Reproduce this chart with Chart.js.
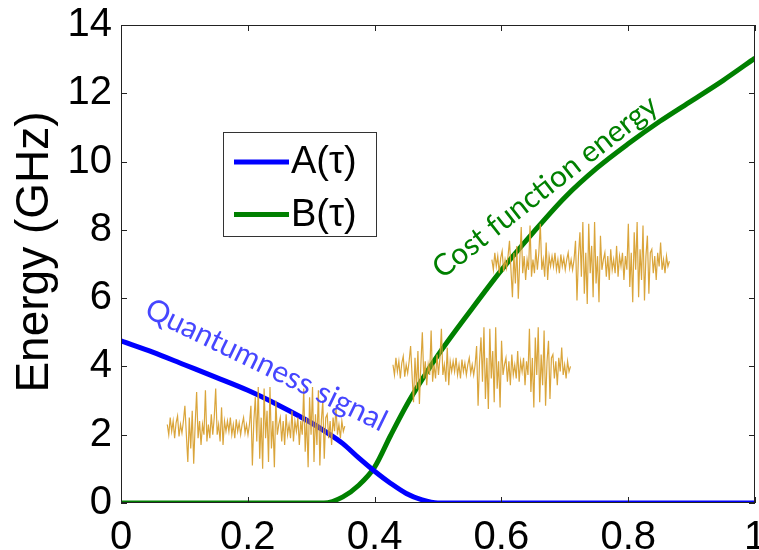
<!DOCTYPE html>
<html>
<head>
<meta charset="utf-8">
<script src="https://cdn.jsdelivr.net/npm/chart.js@4.4.1/dist/chart.umd.min.js"></script>
<style>
html, body { margin: 0; padding: 0; background: #fff; }
#wrap { width: 759px; height: 550px; }
</style>
</head>
<body>
<div id="wrap"><canvas id="myChart" width="759" height="550"></canvas></div>
<script>
// tau (x) sample positions and the two energy curves (GHz)
const tau     = [0, 0.05, 0.1, 0.15, 0.2, 0.25, 0.3, 0.32, 0.35, 0.375, 0.4, 0.425, 0.45, 0.475, 0.5, 0.55, 0.6, 0.65, 0.7, 0.75, 0.8, 0.85, 0.9, 0.95, 1];
const aValues = [4.75, 4.42, 4.05, 3.68, 3.3, 2.85, 2.35, 2.12, 1.74, 1.32, 0.93, 0.58, 0.28, 0.09, 0, 0, 0, 0, 0, 0, 0, 0, 0, 0, 0];
const bValues = [0, 0, 0, 0, 0, 0, 0, 0, 0.18, 0.52, 1.05, 1.97, 2.85, 3.62, 4.33, 5.6, 6.82, 7.92, 8.95, 9.8, 10.52, 11.18, 11.78, 12.38, 13.03];

const seriesLabels = ['A(\u03c4)', 'B(\u03c4)'];
const xTicks = [0, 0.2, 0.4, 0.6, 0.8, 1];
const yTicks = [0, 2, 4, 6, 8, 10, 12, 14];

// signal snippets (same pasted waveform three times, offsets in GHz)
const noise = [
  0.1, -0.2, 0.3, -0.1, 0.2, -0.3, 0.15, 0.35, -0.25, 0.1, -0.15, 0.2,
  0.65, -0.2, -1.0, 0.3, -0.6, 0.5, -1.05, 0.1, 1.05, -0.3, 0.2, -0.5, 0.1, -0.2,
  1.1, -0.4, 0.1, -0.3, 0.4, -0.2, 0.3, 1.15, -0.2, 0.1, -0.4, 0.6, -0.5, 0.2, -0.1,
  0.2, -0.1, 0.3, -0.2, 0.1, -0.3, 0.25, -0.1, 0.15, -0.2, 0.1, 0.3, -0.15, 0.1, -0.2, 0.1,
  0.65, -1.1, 0.2, 0.9, -0.4, 1.2, -0.9, 0.3, -1.2, 1.15, -0.3, 0.5, -1.0, 1.2, -0.6, 0.2, -1.15, 0.8, -0.2, 0.1,
  0.3, -0.4, 0.2, -0.5, 0.4, -0.2, 0.1, -0.3, 0.5, -0.4, 0.2, -0.1, 0.3, -0.5, 0.2, -0.2,
  1.15, -0.7, 0.3, -1.15, 0.9, -0.2, 1.2, -1.0, 0.4, -0.5, 1.1, -1.1, 0.2, 0.8, -0.9, 0.3,
  0.4, -0.3, 0.2, -0.5, 0.3, -0.1, 0.6, -0.2, 0.1, -0.3, 0.2, -0.1, 0.05
];
const clipStartX  = [0.073, 0.429, 0.585];
const clipCenterY = [2.2, 3.95, 7.03];
const clipWidth = 0.28;

const notes = [
  { text: 'Quantumness signal', x: 0.229, y: 4.04, angle: 26, color: '#4646ff' },
  { text: 'Cost function energy', x: 0.669, y: 9.26, angle: -38, color: '#008000' }
];

const lineColors = ['#0000ff', '#008000'];

const datasets = [aValues, bValues].map(function(vals, k) {
    return {
        label: seriesLabels[k],
        data: tau.map(function(t, i) { return { x: t, y: vals[i] }; }),
        borderColor: lineColors[k],
        borderWidth: 5,
        pointRadius: 0,
        cubicInterpolationMode: 'monotone',
        order: 1
    };
});

clipStartX.forEach(function(x0, k) {
    datasets.push({
        label: 'signal' + k,
        data: noise.map(function(v, i) {
            return { x: x0 + clipWidth * i / (noise.length - 1), y: clipCenterY[k] + v };
        }),
        borderColor: 'rgba(216,160,48,0.95)',
        borderWidth: 1.2,
        pointRadius: 0,
        tension: 0,
        order: 0
    });
});

const frame = {
    id: 'frame',
    afterDatasetsDraw: function(chart) {
        const ctx = chart.ctx;
        const a = chart.chartArea;
        const xs = chart.scales.x, ys = chart.scales.y;
        ctx.save();
        ctx.strokeStyle = '#222';
        ctx.lineWidth = 1;
        ctx.strokeRect(a.left + 0.5, a.top + 0.5, a.right - a.left - 1, a.bottom - a.top - 1);
        ctx.beginPath();
        xTicks.forEach(function(v) {
            const px = Math.round(xs.getPixelForValue(v)) + 0.5;
            ctx.moveTo(px, a.bottom); ctx.lineTo(px, a.bottom - 6);
            ctx.moveTo(px, a.top); ctx.lineTo(px, a.top + 6);
        });
        yTicks.forEach(function(v) {
            const py = Math.round(ys.getPixelForValue(v)) + 0.5;
            ctx.moveTo(a.left, py); ctx.lineTo(a.left + 6, py);
            ctx.moveTo(a.right, py); ctx.lineTo(a.right - 6, py);
        });
        ctx.stroke();

        // text notes along the curves
        notes.forEach(function(n) {
            ctx.save();
            ctx.translate(xs.getPixelForValue(n.x), ys.getPixelForValue(n.y));
            ctx.rotate(n.angle * Math.PI / 180);
            ctx.font = '30px Lato';
            ctx.fillStyle = n.color;
            ctx.textAlign = 'center';
            ctx.textBaseline = 'middle';
            ctx.fillText(n.text, 0, 0);
            ctx.restore();
        });

        // legend box
        const lx = a.left + 102, ly = a.top + 107, lw = 153, lh = 104;
        ctx.fillStyle = '#fff';
        ctx.fillRect(lx, ly, lw, lh);
        ctx.strokeStyle = '#333';
        ctx.strokeRect(lx + 0.5, ly + 0.5, lw, lh);
        ctx.font = '38px "Liberation Sans"';
        ctx.textAlign = 'left';
        ctx.textBaseline = 'middle';
        seriesLabels.forEach(function(lab, k) {
            const yy = ly + 30 + k * 52.5;
            ctx.strokeStyle = lineColors[k];
            ctx.lineWidth = 5;
            ctx.beginPath();
            ctx.moveTo(lx + 11, yy); ctx.lineTo(lx + 66, yy);
            ctx.stroke();
            ctx.fillStyle = '#000';
            ctx.fillText(lab, lx + 68, yy + 1);
        });

        // y axis title
        ctx.translate(35, 252);
        ctx.rotate(-Math.PI / 2);
        ctx.font = '46px "Liberation Sans"';
        ctx.fillStyle = '#000';
        ctx.textAlign = 'center';
        ctx.textBaseline = 'middle';
        ctx.fillText('Energy (GHz)', 0, 0);
        ctx.restore();
    }
};

const ctx = document.getElementById('myChart').getContext('2d');
new Chart(ctx, {
    type: 'line',
    data: { datasets: datasets },
    options: {
        responsive: false,
        animation: false,
        devicePixelRatio: 1,
        layout: { padding: { top: 25, right: 4, left: 0, bottom: 0 } },
        scales: {
            x: {
                type: 'linear',
                min: 0,
                max: 1,
                grid: { display: false, drawTicks: false },
                border: { display: false },
                afterBuildTicks: function(scale) {
                    scale.ticks = xTicks.map(function(v) { return { value: v }; });
                },
                afterFit: function(scale) {
                    scale.height = 47;
                    scale.paddingLeft = 0;
                    scale.paddingRight = 0;
                },
                ticks: {
                    color: '#000',
                    padding: 11,
                    maxRotation: 0,
                    autoSkip: false,
                    font: { family: 'Liberation Sans', size: 40 },
                    callback: function(v) { return String(v); }
                }
            },
            y: {
                min: 0,
                max: 14,
                grid: { display: false, drawTicks: false },
                border: { display: false },
                afterBuildTicks: function(scale) {
                    scale.ticks = yTicks.map(function(v) { return { value: v }; });
                },
                afterFit: function(scale) {
                    scale.width = 121;
                    scale.paddingTop = 0;
                    scale.paddingBottom = 0;
                },
                ticks: {
                    color: '#000',
                    padding: 9,
                    autoSkip: false,
                    font: { family: 'Liberation Sans', size: 40 },
                    callback: function(v) { return String(v); }
                }
            }
        },
        plugins: {
            legend: { display: false },
            tooltip: { enabled: false }
        }
    },
    plugins: [frame]
});
</script>
</body>
</html>
